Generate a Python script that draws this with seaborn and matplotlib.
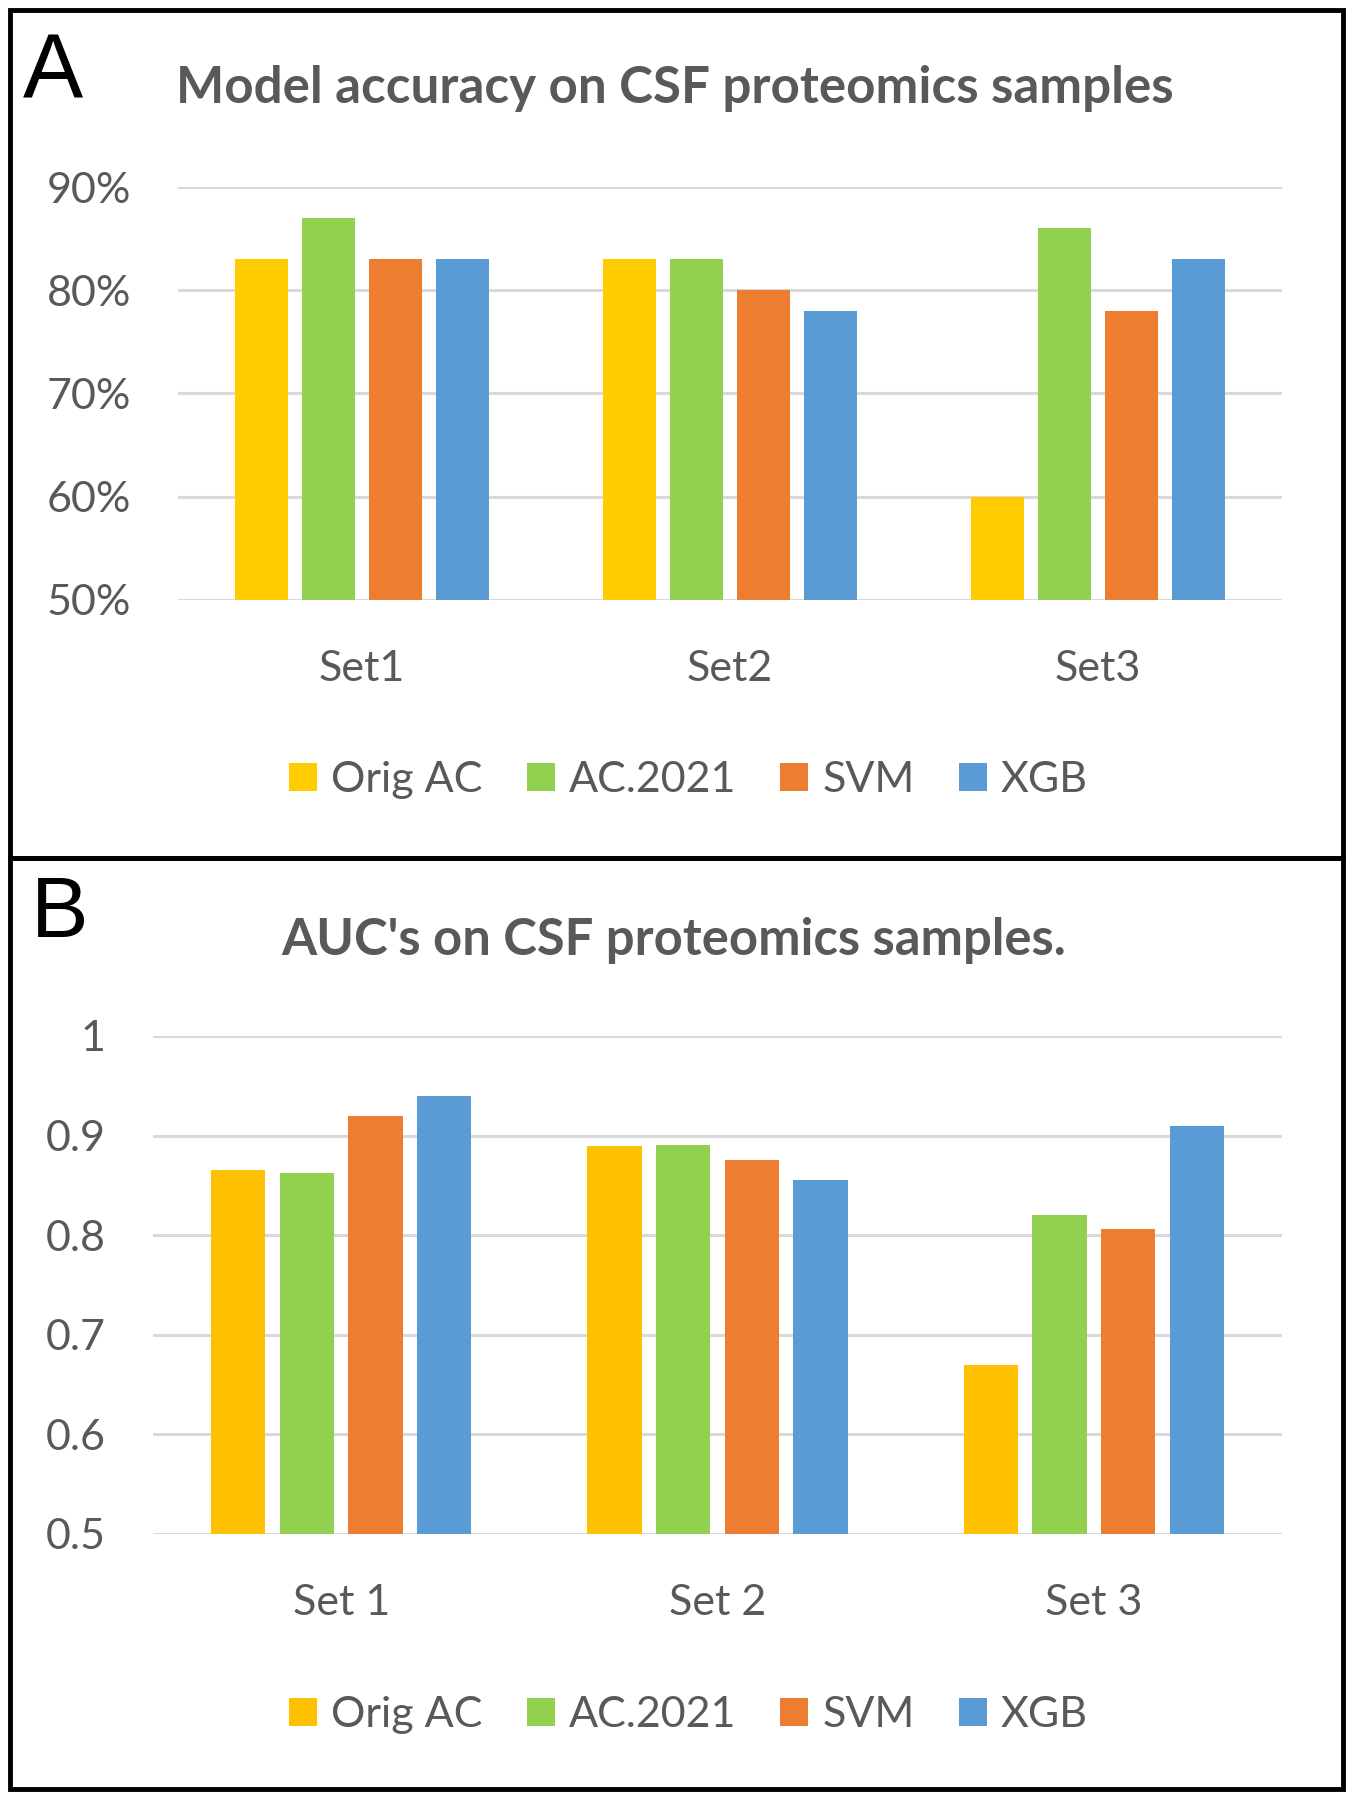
import matplotlib
matplotlib.use("Agg")
import matplotlib.pyplot as plt
from matplotlib.lines import Line2D
import seaborn as sns
import pandas as pd

# data
models = ["Orig AC", "AC.2021", "SVM", "XGB"]
sets_a = ["Set1", "Set2", "Set3"]
sets_b = ["Set 1", "Set 2", "Set 3"]

acc_orig = [0.83, 0.83, 0.60]
acc_ac21 = [0.87, 0.83, 0.86]
acc_svm = [0.83, 0.80, 0.78]
acc_xgb = [0.83, 0.78, 0.83]

auc_orig = [0.865, 0.889, 0.670]
auc_ac21 = [0.862, 0.890, 0.820]
auc_svm = [0.920, 0.875, 0.806]
auc_xgb = [0.940, 0.855, 0.910]

acc_ticks = [0.5, 0.6, 0.7, 0.8, 0.9]
acc_ticklabels = ["50%", "60%", "70%", "80%", "90%"]
auc_ticks = [0.5, 0.6, 0.7, 0.8, 0.9, 1.0]
auc_ticklabels = ["0.5", "0.6", "0.7", "0.8", "0.9", "1"]

pal_a = ["#FFCC00", "#92D050", "#ED7D31", "#5B9BD5"]
pal_b = ["#FFC000", "#92D050", "#ED7D31", "#5B9BD5"]
txt = "#595959"


def long_form(sets, cols):
    rows = []
    for m, vals in zip(models, cols):
        for s, v in zip(sets, vals):
            rows.append({"set": s, "model": m, "value": v})
    return pd.DataFrame(rows)


df_a = long_form(sets_a, [acc_orig, acc_ac21, acc_svm, acc_xgb])
df_b = long_form(sets_b, [auc_orig, auc_ac21, auc_svm, auc_xgb])

sns.set_theme(style="white")
plt.rcParams["font.family"] = ["Lato", "DejaVu Sans"]

fig = plt.figure(figsize=(13.52, 18.0), dpi=100)
ax_a = fig.add_axes([0.1317, 0.6667, 0.8166, 0.2294])
ax_b = fig.add_axes([0.1132, 0.1478, 0.8351, 0.2767])


def draw(ax, df, pal, ticks, ticklabels, ylim, leg_y):
    sns.barplot(data=df, x="set", y="value", hue="model", palette=pal,
                width=0.73, gap=0.21, linewidth=0, saturation=1, ax=ax)
    ax.set_ylim(*ylim)
    ax.set_yticks(ticks)
    ax.set_yticklabels(ticklabels)
    ax.set_xlabel("")
    ax.set_ylabel("")
    ax.set_axisbelow(True)
    ax.yaxis.grid(True, color="#D9D9D9", linewidth=2.2)
    ax.xaxis.grid(False)
    for sp in ax.spines.values():
        sp.set_visible(False)
    ax.tick_params(axis="y", length=0, pad=34, labelsize=31, labelcolor=txt)
    ax.tick_params(axis="x", length=0, pad=36, labelsize=31, labelcolor=txt)
    ax.get_legend().remove()
    handles = [Line2D([0], [0], marker="s", linestyle="", markersize=20,
                      markerfacecolor=c, markeredgewidth=0) for c in pal]
    leg = ax.legend(handles, models, loc="center", ncol=4, frameon=False,
                    bbox_to_anchor=(0.5065, leg_y), bbox_transform=fig.transFigure,
                    fontsize=31, handletextpad=0.15, columnspacing=0.85,
                    handlelength=1.0)
    for t in leg.get_texts():
        t.set_color(txt)


draw(ax_a, df_a, pal_a, acc_ticks, acc_ticklabels, (0.5, 0.9), 1 - 780 / 1800)
draw(ax_b, df_b, pal_b, auc_ticks, auc_ticklabels, (0.5, 1.0), 1 - 1715 / 1800)

fig.text(675 / 1352, 1 - 103 / 1800, "Model accuracy on CSF proteomics samples",
         ha="center", va="baseline", fontsize=36.8, fontweight="bold", color=txt)
fig.text(674 / 1352, 1 - 955 / 1800, "AUC's on CSF proteomics samples.",
         ha="center", va="baseline", fontsize=36.5, fontweight="bold", color=txt)

fig.text(0.017, 1 - 97 / 1800, "A", ha="left", va="baseline", fontsize=65,
         family="Liberation Sans", color="black")
fig.text(0.023, 1 - 937 / 1800, "B", ha="left", va="baseline", fontsize=62,
         family="Liberation Sans", color="black")

# panel frames
W, H = 1352, 1800
for (x0, y0, x1, y1) in [(10, 10, 1343, 858), (10, 858, 1343, 1789)]:
    fig.add_artist(plt.Rectangle((x0 / W, 1 - y1 / H), (x1 - x0) / W, (y1 - y0) / H,
                                 transform=fig.transFigure, fill=False,
                                 edgecolor="black", linewidth=3.5))

fig.savefig("out.png", dpi=100, facecolor="white")
